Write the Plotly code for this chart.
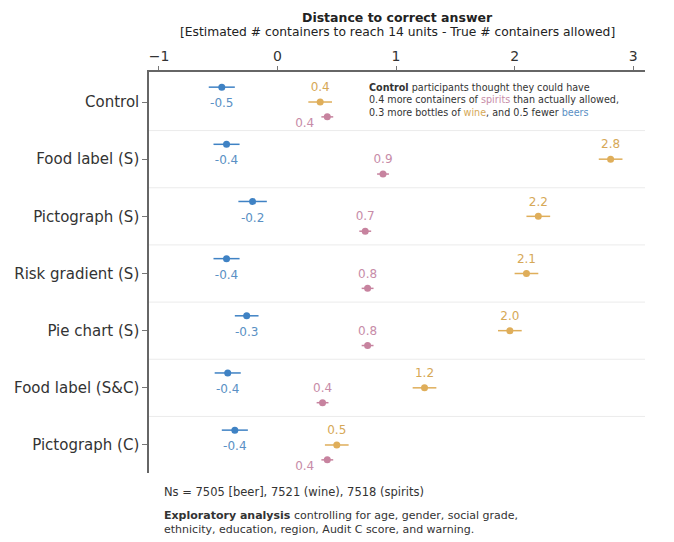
import plotly.graph_objects as go

# Conditions (rows, top to bottom)
conditions = ["Control", "Food label (S)", "Pictograph (S)", "Risk gradient (S)",
              "Pie chart (S)", "Food label (S&C)", "Pictograph (C)"]

# Mean distance to correct answer per drink type
beer = [-0.47, -0.43, -0.21, -0.43, -0.26, -0.42, -0.36]
wine = [0.36, 2.81, 2.20, 2.10, 1.96, 1.24, 0.50]
spirits = [0.42, 0.89, 0.74, 0.76, 0.76, 0.38, 0.42]

# Half-widths of the confidence intervals
beer_ci = [0.11, 0.11, 0.12, 0.11, 0.10, 0.11, 0.11]
wine_ci = [0.10, 0.10, 0.10, 0.10, 0.10, 0.10, 0.10]
spirits_ci = [0.05, 0.05, 0.05, 0.05, 0.05, 0.05, 0.05]

# Where each spirits label sits relative to its point
spirits_label_side = ["left", "above", "above", "above", "above", "above", "left"]

BLUE, BLUE_T = "#3f82c4", "#5a90c4"
GOLD, GOLD_T = "#dfae5a", "#d6a856"
PINK, PINK_T = "#c7839f", "#c78ca8"
FONT = "DejaVu Sans"
TXT = "#333333"

rows = list(range(len(conditions)))
OFF = 0.26      # vertical offset of beer/spirits points within a row
BEER_LAB = 0.30  # beer label distance below its point
TOP_LAB = 0.24   # wine/spirits label distance above their point

fig = go.Figure()

def add_series(vals, ci, color, dy):
    fig.add_trace(go.Scatter(
        x=vals, y=[r + dy for r in rows], mode="markers",
        marker=dict(color=color, size=7),
        error_x=dict(type="data", array=ci, color=color, thickness=1.5, width=0),
        hoverinfo="skip", showlegend=False))

add_series(beer, beer_ci, BLUE, -OFF)
add_series(wine, wine_ci, GOLD, 0)
add_series(spirits, spirits_ci, PINK, OFF)

lab_font = dict(family=FONT, size=12)

# beer labels below the point
fig.add_trace(go.Scatter(
    x=beer, y=[r - OFF + BEER_LAB for r in rows], mode="text",
    text=[f"{v:.1f}" for v in beer], textposition="middle center",
    textfont=dict(lab_font, color=BLUE_T), hoverinfo="skip", showlegend=False))

# wine labels above the point
fig.add_trace(go.Scatter(
    x=wine, y=[r - TOP_LAB for r in rows], mode="text",
    text=[f"{v:.1f}" for v in wine], textposition="middle center",
    textfont=dict(lab_font, color=GOLD_T), hoverinfo="skip", showlegend=False))

# spirits labels: above the point, or to its left
sx, sy, st, sp = [], [], [], []
for r, v, side in zip(rows, spirits, spirits_label_side):
    st.append(f"{v:.1f}")
    if side == "left":
        sx.append(v - 0.11); sy.append(r + OFF + 0.12); sp.append("middle left")
    else:
        sx.append(v); sy.append(r + OFF - TOP_LAB); sp.append("middle center")
fig.add_trace(go.Scatter(
    x=sx, y=sy, mode="text", text=st, textposition=sp,
    textfont=dict(lab_font, color=PINK_T), hoverinfo="skip", showlegend=False))

# row separators
for r in rows[:-1]:
    fig.add_shape(type="line", xref="paper", x0=0, x1=1, y0=r + 0.5, y1=r + 0.5,
                  line=dict(color="#ebebeb", width=1), layer="below")

# titles
fig.add_annotation(text="<b>Distance to correct answer</b>", xref="paper", yref="paper",
                   x=0.5, y=1, yshift=55, yanchor="middle", showarrow=False,
                   font=dict(family=FONT, size=12.5, color="#222"))
fig.add_annotation(text="[Estimated # containers to reach 14 units - True # containers allowed]",
                   xref="paper", yref="paper", x=0.5, y=1, yshift=40, yanchor="middle",
                   showarrow=False, font=dict(family=FONT, size=12.3, color="#222"))

# explanatory note for the control row
note = ("<b>Control</b> participants thought they could have<br>"
        f"0.4 more containers of <span style='color:{PINK_T}'>spirits</span> than actually allowed,<br>"
        f"0.3 more bottles of <span style='color:{GOLD_T}'>wine</span>, and 0.5 fewer "
        f"<span style='color:{BLUE_T}'>beers</span>")
fig.add_annotation(text=note, x=0.755, y=-0.03, xref="x", yref="y", xanchor="left",
                   yanchor="middle", align="left", showarrow=False,
                   font=dict(family=FONT, size=9.6, color=TXT))

# footnotes
fig.add_annotation(text="Ns = 7505 [beer], 7521 (wine), 7518 (spirits)", xref="paper", yref="paper",
                   x=0.026, y=0, yshift=-19, xanchor="left", yanchor="middle", showarrow=False,
                   font=dict(family=FONT, size=11.5, color=TXT))
fig.add_annotation(text="<b>Exploratory analysis</b> controlling for age, gender, social grade,<br>"
                        "ethnicity, education, region, Audit C score, and warning.",
                   xref="paper", yref="paper", x=0.026, y=0, yshift=-49, xanchor="left",
                   yanchor="middle", align="left", showarrow=False,
                   font=dict(family=FONT, size=11, color=TXT))

fig.update_layout(
    width=674, height=542,
    margin=dict(l=149, r=29, t=72, b=69),
    paper_bgcolor="white", plot_bgcolor="white",
    font=dict(family=FONT, color=TXT),
    xaxis=dict(side="top", range=[-1.084, 3.10], tickvals=[-1, 0, 1, 2, 3],
               ticks="outside", ticklen=4, tickcolor="#777", showline=True,
               linecolor="#666", linewidth=1.5, showgrid=False, zeroline=False,
               tickfont=dict(family=FONT, size=14, color=TXT)),
    yaxis=dict(range=[6.49, -0.525], tickvals=rows, ticktext=conditions,
               ticks="outside", ticklen=5, tickcolor="#777", showline=True,
               linecolor="#666", linewidth=1.5, showgrid=False, zeroline=False,
               tickfont=dict(family=FONT, size=15, color=TXT)),
)

fig.write_html("out.html")
